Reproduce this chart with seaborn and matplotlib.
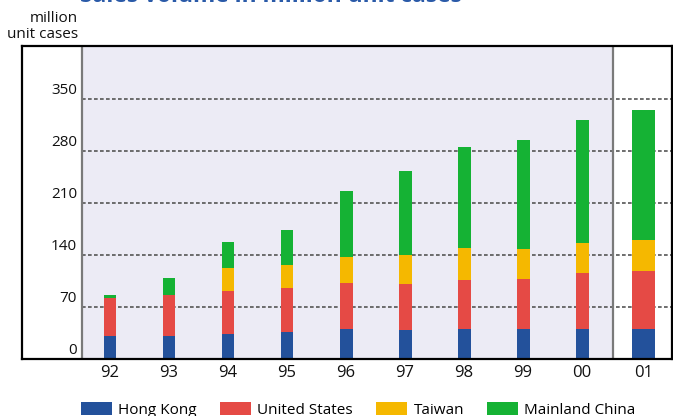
import numpy as np
import pandas as pd
import matplotlib
matplotlib.use("Agg")
import matplotlib.pyplot as plt
from matplotlib.patches import Patch
from matplotlib.transforms import ScaledTranslation
import seaborn as sns

# Sales volume by market, million unit cases
years = ["92", "93", "94", "95", "96", "97", "98", "99", "00", "01"]
hong_kong = [31.5, 31.5, 34, 37, 40, 38.5, 41, 41, 41, 41]
united_states = [51, 54, 58, 58, 62, 63, 65, 67, 75, 77]
taiwan = [0, 0, 30, 31, 35, 38, 44, 40, 40, 42]
mainland_china = [3, 24, 35, 47, 89, 113, 136, 147, 166, 175]
series_names = ["Hong Kong", "United States", "Taiwan", "Mainland China"]
y_ticks = [0, 70, 140, 210, 280, 350]

colors = ["#23519b", "#e54a45", "#f5b800", "#15b234"]
lavender = "#ecebf5"

plt.rcParams["font.family"] = ["Open Sans", "DejaVu Sans"]

# Long table with the running top of each stacked segment
positions = np.arange(len(years), dtype=float)
positions[-1] += 0.04
stack = np.vstack([hong_kong, united_states, taiwan, mainland_china])
tops = np.cumsum(stack, axis=0)
rows = []
for s, name in enumerate(series_names):
    for i, yr in enumerate(years):
        rows.append({"year": yr, "pos": positions[i], "series": name,
                     "value": stack[s, i], "top": tops[s, i],
                     "forecast": yr == "01"})
df = pd.DataFrame(rows)

fig = plt.figure(figsize=(6.73, 4.16), dpi=100)
ax = fig.add_axes([22 / 673, 57 / 416, 650 / 673, 313 / 416])
ax.set_facecolor("white")

x_left, x_right = -1.4915, 9.525
divider = 8.52
ax.axvspan(-0.475, divider, color=lavender, lw=0, zorder=0)

# Dashed reference lines
for v in y_ticks[1:]:
    ax.hlines(v, -0.475, x_right, colors="#555555",
              linestyles=(0, (2.2, 1.4)), lw=1.2, zorder=1)

# Stacked bars: draw the tallest cumulative segment first
for s in range(len(series_names) - 1, -1, -1):
    sub = df[df["series"] == series_names[s]]
    sns.barplot(data=sub[~sub["forecast"]], x="pos", y="top", native_scale=True,
                color=colors[s], saturation=1, width=0.22, linewidth=0,
                errorbar=None, ax=ax, zorder=3)
    sns.barplot(data=sub[sub["forecast"]], x="pos", y="top", native_scale=True,
                color=colors[s], saturation=1, width=0.39, linewidth=0,
                errorbar=None, ax=ax, zorder=3)

ax.axvline(-0.475, color="#7a7a7a", lw=1.6, zorder=4)
ax.axvline(divider, color="#7a7a7a", lw=1.6, zorder=4)

ax.set_xlim(x_left, x_right)
ax.set_ylim(0, 313 / 0.74286)
for sp in ax.spines.values():
    sp.set_visible(True)
    sp.set_color("black")
    sp.set_linewidth(1.6)
    sp.set_zorder(5)

ax.set_xticks(positions)
ax.set_xticklabels(years, fontsize=12, color="#111111")
ax.tick_params(axis="x", length=0, pad=4.5)
ax.set_yticks([])
ax.set_xlabel("")
ax.set_ylabel("")

# Value labels sit just above each reference line
lift = ax.transData + ScaledTranslation(0, 8.7 / 100, fig.dpi_scale_trans)
for v in y_ticks:
    ax.text(-0.559, v, str(v), ha="right", va="center", fontsize=11,
            color="#111111", transform=lift, zorder=6)

fig.text(78 / 673, 1 - 19 / 416, "million", ha="right", va="center",
         fontsize=11, color="#111111")
fig.text(78 / 673, 1 - 34 / 416, "unit cases", ha="right", va="center",
         fontsize=11, color="#111111")

fig.text(271 / 673, 1 - 2 / 416, "Sales volume in million unit cases",
         ha="center", va="baseline", color="#2a5aa8", fontweight="bold",
         fontsize=16.4)

handles = [Patch(facecolor=c, edgecolor="none") for c in colors]
fig.legend(handles, series_names, loc="center left",
           bbox_to_anchor=(81 / 673, 6 / 416), ncol=4, frameon=False,
           prop={"size": 11},
           handlelength=2.03, handleheight=0.98, handletextpad=0.42,
           columnspacing=1.5, borderpad=0, borderaxespad=0)

fig.savefig("out.png", dpi=100)
